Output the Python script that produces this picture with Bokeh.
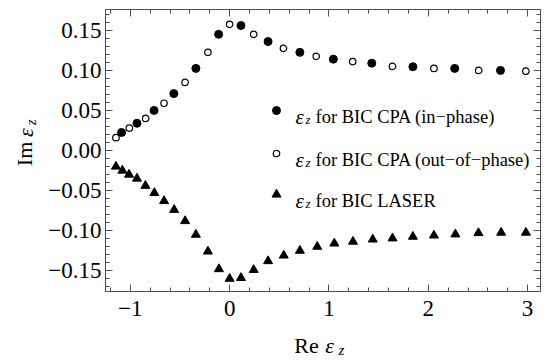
import math
from bokeh.plotting import figure
from bokeh.models import Range1d, FixedTicker, LinearAxis, Label
from bokeh.layouts import column, row
from bokeh.embed import file_html
from bokeh.resources import INLINE

# ---- data ----
inphase_re = [-1.088, -0.933, -0.761, -0.562, -0.340, -0.111, 0.114, 0.387, 0.707,
              1.044, 1.431, 1.845, 2.266, 2.727]
inphase_im = [0.0225, 0.034, 0.050, 0.071, 0.1025, 0.145, 0.156, 0.136, 0.1225,
              0.114, 0.109, 0.1046, 0.1025, 0.100]

outphase_re = [-1.145, -1.010, -0.845, -0.660, -0.448, -0.219, 0.000, 0.242, 0.542,
               0.872, 1.239, 1.640, 2.057, 2.508, 2.983]
outphase_im = [0.016, 0.028, 0.040, 0.059, 0.085, 0.1225, 0.1575, 0.145, 0.1275,
               0.1175, 0.111, 0.105, 0.1025, 0.100, 0.099]

laser_re = [-1.145, -1.080, -1.013, -0.933, -0.848, -0.758, -0.660, -0.559, -0.448,
            -0.340, -0.219, -0.108, 0.000, 0.114, 0.242, 0.387, 0.545, 0.707,
            0.882, 1.054, 1.242, 1.441, 1.640, 1.845, 2.057, 2.273, 2.505, 2.734, 2.983]
laser_im = [-0.020, -0.025, -0.030, -0.035, -0.044, -0.053, -0.063, -0.074, -0.088,
            -0.105, -0.126, -0.148, -0.160, -0.159, -0.149, -0.138, -0.131, -0.125,
            -0.120, -0.116, -0.1137, -0.111, -0.1096, -0.1075, -0.106, -0.1046, -0.103,
            -0.1025, -0.1025]

x_ticks = [-1, 0, 1, 2, 3]
x_tick_labels = ["\u22121", "0", "1", "2", "3"]
y_ticks = [-0.15, -0.10, -0.05, 0.0, 0.05, 0.10, 0.15]
y_tick_labels = ["\u22120.15", "\u22120.10", "\u22120.05", "0.00", "0.05", "0.10", "0.15"]

legend_texts = ["for BIC CPA (in\u2212phase)", "for BIC CPA (out\u2212of\u2212phase)", "for BIC LASER"]

# ---- layout (page pixels) ----
W, H = 548, 360
YLW = 40            # strip holding the rotated y title
XLH = 30            # strip holding the x title
MW, MH = W - YLW, H - XLH
FRAME_L, FRAME_R, FRAME_T, FRAME_B = 105, 540, 9, 291
XMIN, XMAX = -1.25, 3.13
YMIN, YMAX = -0.176, 0.176

def px2x(px):
    return XMIN + (px - FRAME_L) / (FRAME_R - FRAME_L) * (XMAX - XMIN)

def py2y(py):
    return YMAX - (py - FRAME_T) / (FRAME_B - FRAME_T) * (YMAX - YMIN)

FONT = "Liberation Serif"
FRAME = "#4d4d4d"

p = figure(width=MW, height=MH, x_range=Range1d(XMIN, XMAX), y_range=Range1d(YMIN, YMAX),
           output_backend="svg", toolbar_location=None,
           min_border_left=FRAME_L - YLW, min_border_right=W - FRAME_R,
           min_border_top=FRAME_T, min_border_bottom=MH - FRAME_B)
p.grid.visible = False
p.outline_line_color = FRAME
p.background_fill_color = "white"
p.border_fill_color = "white"

p.add_layout(LinearAxis(), "above")
p.add_layout(LinearAxis(), "right")

x_minor = [round(-1.2 + 0.2 * i, 2) for i in range(22)]
y_minor = [round(-0.17 + 0.01 * i, 2) for i in range(35)]

for ax in list(p.xaxis) + list(p.yaxis):
    ax.major_tick_in = 7
    ax.major_tick_out = 0
    ax.minor_tick_in = 4
    ax.minor_tick_out = 0
    ax.axis_line_color = FRAME
    ax.major_tick_line_color = FRAME
    ax.minor_tick_line_color = FRAME
    ax.major_label_text_font = FONT
    ax.major_label_text_font_size = "23px"
    ax.major_label_text_color = "black"

for ax in p.xaxis:
    ax.ticker = FixedTicker(ticks=x_ticks, minor_ticks=x_minor)
for ax in p.yaxis:
    ax.ticker = FixedTicker(ticks=y_ticks, minor_ticks=y_minor)

for ax in p.below:
    if isinstance(ax, LinearAxis):
        ax.major_label_overrides = dict(zip(x_ticks, x_tick_labels))
        ax.major_label_standoff = 9
for ax in p.above:
    if isinstance(ax, LinearAxis):
        ax.major_label_overrides = {t: "" for t in x_ticks}
        ax.major_label_standoff = 0
        ax.major_label_text_font_size = "1px"
for ax in p.left:
    if isinstance(ax, LinearAxis):
        ax.major_label_overrides = dict(zip(y_ticks, y_tick_labels))
        ax.major_label_standoff = 4
for ax in p.right:
    if isinstance(ax, LinearAxis):
        ax.major_label_overrides = {t: "" for t in y_ticks}
        ax.major_label_standoff = 0
        ax.major_label_text_font_size = "1px"

# ---- data marks ----
p.scatter(inphase_re, inphase_im, marker="circle", size=8, fill_color="black", line_color="black")
p.scatter(outphase_re, outphase_im, marker="circle", size=6.5, fill_color="white",
          line_color="black", line_width=1.2)
p.scatter(laser_re, laser_im, marker="triangle", size=9, fill_color="black", line_color="black")

# ---- legend ----
leg_px_x = 276
leg_px_y = [110, 153, 194]
p.scatter([px2x(leg_px_x)], [py2y(leg_px_y[0])], marker="circle", size=8,
          fill_color="black", line_color="black")
p.scatter([px2x(leg_px_x)], [py2y(leg_px_y[1])], marker="circle", size=6.5,
          fill_color="white", line_color="black", line_width=1.2)
p.scatter([px2x(leg_px_x)], [py2y(leg_px_y[2])], marker="triangle", size=9,
          fill_color="black", line_color="black")

def add_text(fig, x, y, txt, size, style="normal", angle=0.0, align="left", baseline="alphabetic"):
    fig.add_layout(Label(x=x, y=y, text=txt, text_font=FONT,
                         text_font_size=size, text_font_style=style, text_color="black",
                         text_align=align, text_baseline=baseline, angle=angle))

for ty, txt in zip(leg_px_y, legend_texts):
    base = ty + 6
    add_text(p, px2x(295), py2y(base), "\u03b5", "21px", "italic")
    add_text(p, px2x(305), py2y(base + 3), "z", "13px", "italic")
    add_text(p, px2x(315), py2y(base), txt, "18.5px")

# ---- strip figures for the axis titles ----
def strip(w, h):
    f = figure(width=w, height=h, x_range=Range1d(0, w), y_range=Range1d(0, h),
               output_backend="svg", toolbar_location=None,
               x_axis_location=None, y_axis_location=None,
               min_border=0, min_border_left=0, min_border_right=0,
               min_border_top=0, min_border_bottom=0)
    f.grid.visible = False
    f.outline_line_color = None
    f.background_fill_color = "white"
    f.border_fill_color = "white"
    return f

# y title: "Im eps_z", rotated, centred pieces; local coords: x = page px, y = MH - page py
yl = strip(YLW, MH)
add_text(yl, 24, MH - 169, "Im", "22px", angle=math.pi / 2, align="center", baseline="middle")
add_text(yl, 25, MH - 144, "\u03b5", "22px", "italic", angle=math.pi / 2, align="center", baseline="middle")
add_text(yl, 30, MH - 132, "z", "15px", "italic", angle=math.pi / 2, align="center", baseline="middle")

# x title: "Re eps_z"; local coords: x = page px, y = H - page py
xl = strip(W, XLH)
add_text(xl, 306, H - 345, "Re", "22px", align="center", baseline="middle")
add_text(xl, 329, H - 345, "\u03b5", "22px", "italic", align="center", baseline="middle")
add_text(xl, 341, H - 349, "z", "15px", "italic", align="center", baseline="middle")

layout = column(row(yl, p, spacing=0), xl, spacing=0)
open("out.html", "w").write(file_html(layout, INLINE))
